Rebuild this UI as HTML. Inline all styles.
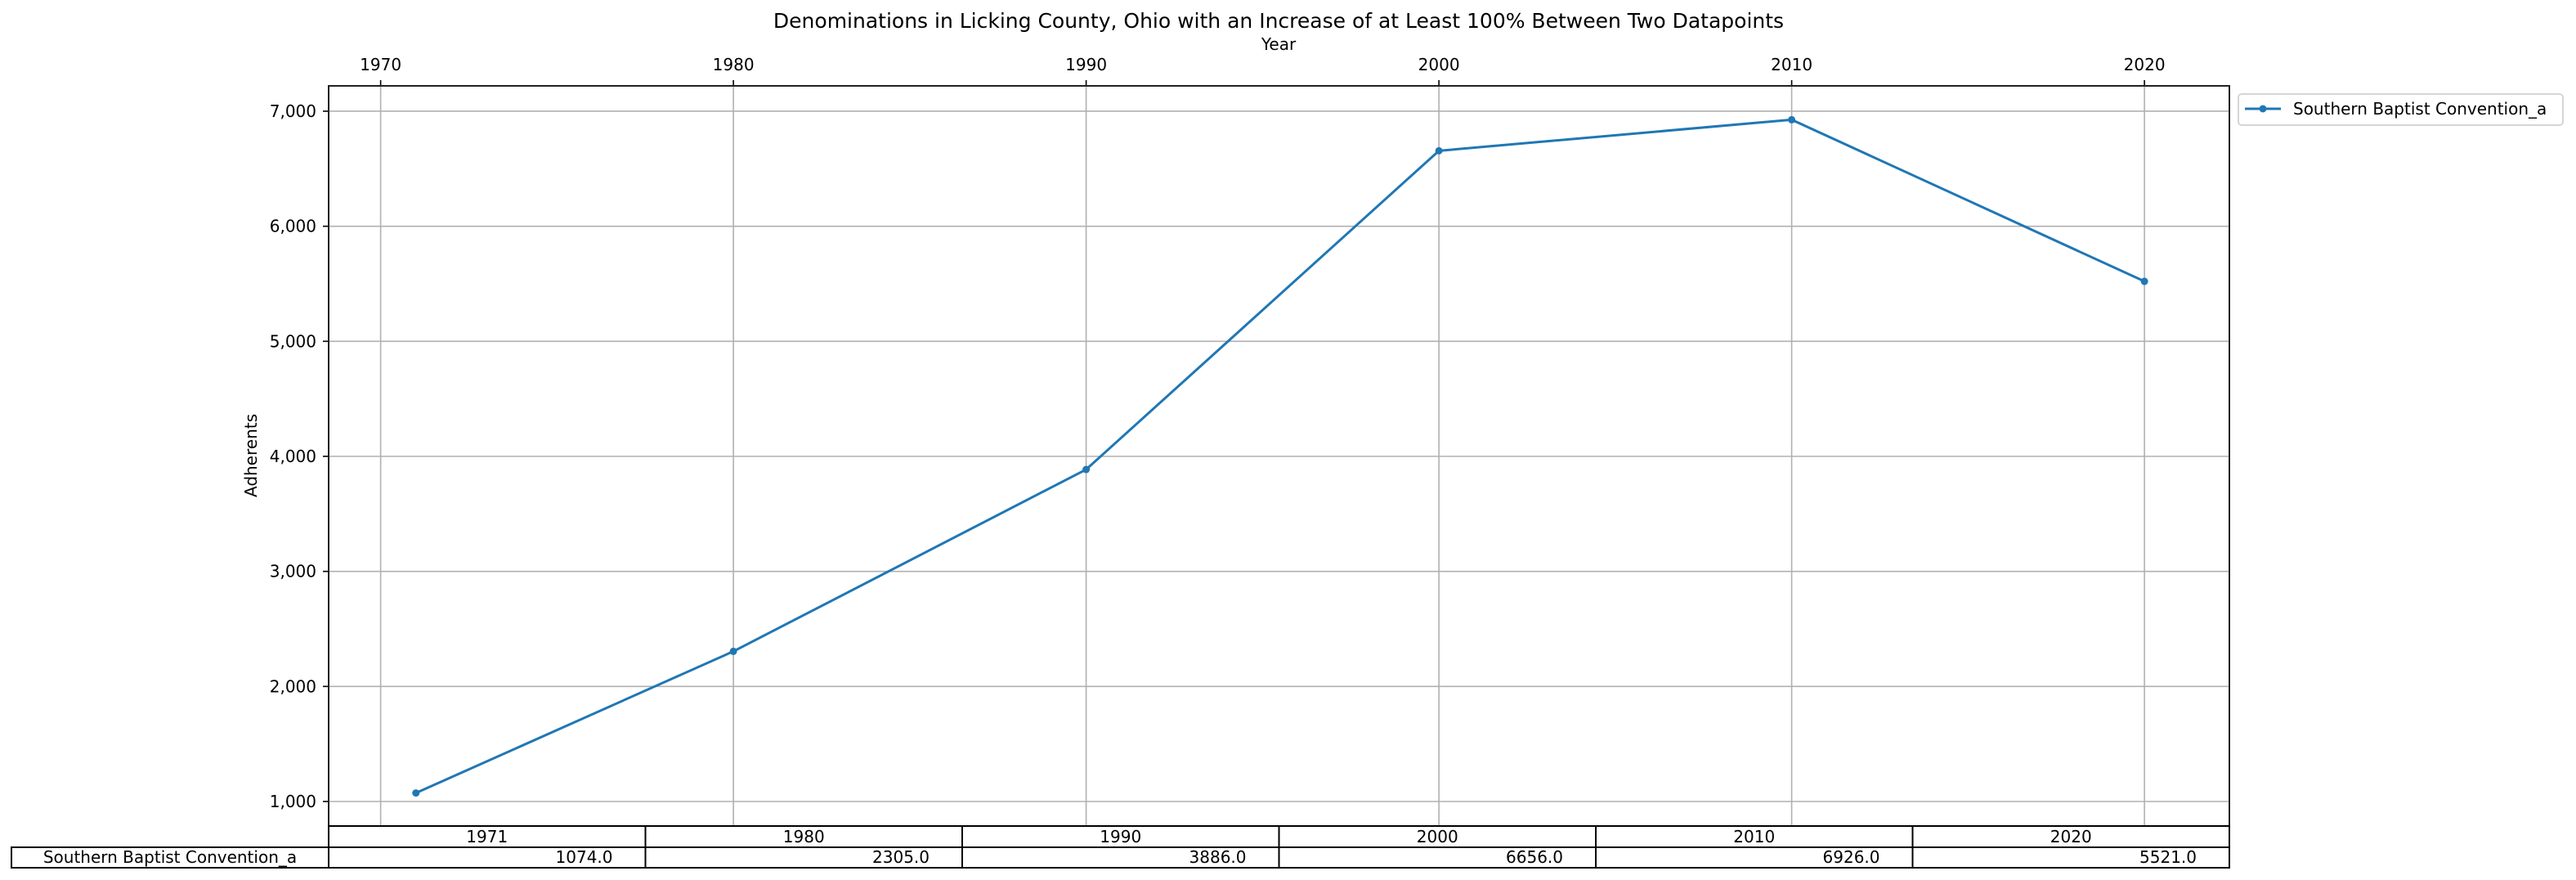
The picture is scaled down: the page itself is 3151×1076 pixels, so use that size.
<!DOCTYPE html>
<html><head><meta charset="utf-8"><style>
html,body{margin:0;padding:0;background:#fff;}
svg{display:block;font-family:"DejaVu Sans","Liberation Sans",sans-serif;}
</style></head><body>
<svg id="chart" width="3151" height="1076" viewBox="0 0 3151 1076" xmlns="http://www.w3.org/2000/svg">
<text x="1564" y="34" text-anchor="middle" font-size="25">Denominations in Licking County, Ohio with an Increase of at Least 100% Between Two Datapoints</text>
<text x="1564" y="61" text-anchor="middle" font-size="20">Year</text>
<text transform="translate(314,557) rotate(-90)" text-anchor="middle" font-size="20">Adherents</text>
<g id="grid"></g>
<g id="axes"></g>
<g id="series"></g>
<g id="table"></g>
<g>
<rect x="2738" y="115" width="397" height="38" rx="4" fill="#fff" stroke="#d5d5d5" stroke-width="2"/>
<line x1="2746" y1="133" x2="2790" y2="133" stroke="#1f77b4" stroke-width="3"/>
<circle cx="2768" cy="133" r="4.5" fill="#1f77b4"/>
<text x="2805" y="140" font-size="20">Southern Baptist Convention_a</text>
</g>
</svg>
<script>
const years = [1971, 1980, 1990, 2000, 2010, 2020];
const adherents = [1074, 2305, 3886, 6656, 6926, 5521];
const xTicks = [1970, 1980, 1990, 2000, 2010, 2020];
const yTicks = [1000, 2000, 3000, 4000, 5000, 6000, 7000];
const yTickLabels = ["1,000", "2,000", "3,000", "4,000", "5,000", "6,000", "7,000"];
const seriesName = "Southern Baptist Convention_a";

const NS = "http://www.w3.org/2000/svg";
const L = 402, R = 2727, T = 105, B = 1010;
function xs(v){ return 465.6 + (v - 1970) * 43.15; }
function ys(v){ return 980 - (v - 1000) * 0.14067; }
function mk(tag, attrs, parent, text){
  const e = document.createElementNS(NS, tag);
  for (const k in attrs) e.setAttribute(k, attrs[k]);
  if (text !== undefined) e.textContent = text;
  parent.appendChild(e);
  return e;
}
const grid = document.getElementById('grid');
const axes = document.getElementById('axes');
const series = document.getElementById('series');
const table = document.getElementById('table');

xTicks.forEach(function(t){
  const x = xs(t);
  const g = mk('line', {x1:x, y1:T, x2:x, y2:B, stroke:'#b0b0b0', 'stroke-width':1.6}, grid);
  
  
  mk('line', {x1:x, y1:T, x2:x, y2:T-7, stroke:'#000', 'stroke-width':1.6}, axes);
  const lb = mk('text', {x:x, y:86, 'text-anchor':'middle', 'font-size':20}, axes, String(t));
  
  
});
yTicks.forEach(function(t, i){
  const y = ys(t);
  const g = mk('line', {x1:L, y1:y, x2:R, y2:y, stroke:'#b0b0b0', 'stroke-width':1.6}, grid);
  
  
  mk('line', {x1:L, y1:y, x2:L-7, y2:y, stroke:'#000', 'stroke-width':1.6}, axes);
  const lb = mk('text', {x:387, y:y+7, 'text-anchor':'end', 'font-size':20}, axes, yTickLabels[i]);
  
  
});
const frame = mk('rect', {x:L, y:T, width:R-L, height:B-T, fill:'none', stroke:'#222', 'stroke-width':2}, axes);



const pts = years.map(function(y, i){ return xs(y) + ',' + ys(adherents[i]); }).join(' ');
const line = mk('polyline', {points:pts, fill:'none', stroke:'#1f77b4', 'stroke-width':3, 'stroke-linejoin':'round'}, series);


years.forEach(function(y, i){
  const c = mk('circle', {cx:xs(y), cy:ys(adherents[i]), r:4.5, fill:'#1f77b4'}, series);
  
  
});

const cw = (R - L) / years.length;
const h1 = 1010, h2 = 1036, h3 = 1061;
mk('rect', {x:L, y:h1, width:R-L, height:h2-h1, fill:'#fff', stroke:'#000', 'stroke-width':2}, table);
mk('rect', {x:14, y:h2, width:R-14, height:h3-h2, fill:'#fff', stroke:'#000', 'stroke-width':2}, table);
mk('line', {x1:L, y1:h2, x2:L, y2:h3, stroke:'#000', 'stroke-width':2}, table);
const rl = mk('text', {x:(14+L)/2, y:h3-6, 'text-anchor':'middle', 'font-size':20}, table, seriesName);


years.forEach(function(y, i){
  const x0 = L + i * cw;
  if (i > 0) mk('line', {x1:x0, y1:h1, x2:x0, y2:h3, stroke:'#000', 'stroke-width':2}, table);
  const hd = mk('text', {x:x0 + cw/2, y:h2-6, 'text-anchor':'middle', 'font-size':20}, table, String(y));
  
  
  const vc = mk('text', {x:x0 + cw - 40, y:h3-6, 'text-anchor':'end', 'font-size':20}, table, adherents[i].toFixed(1));
  
  
});
</script>
</body></html>
